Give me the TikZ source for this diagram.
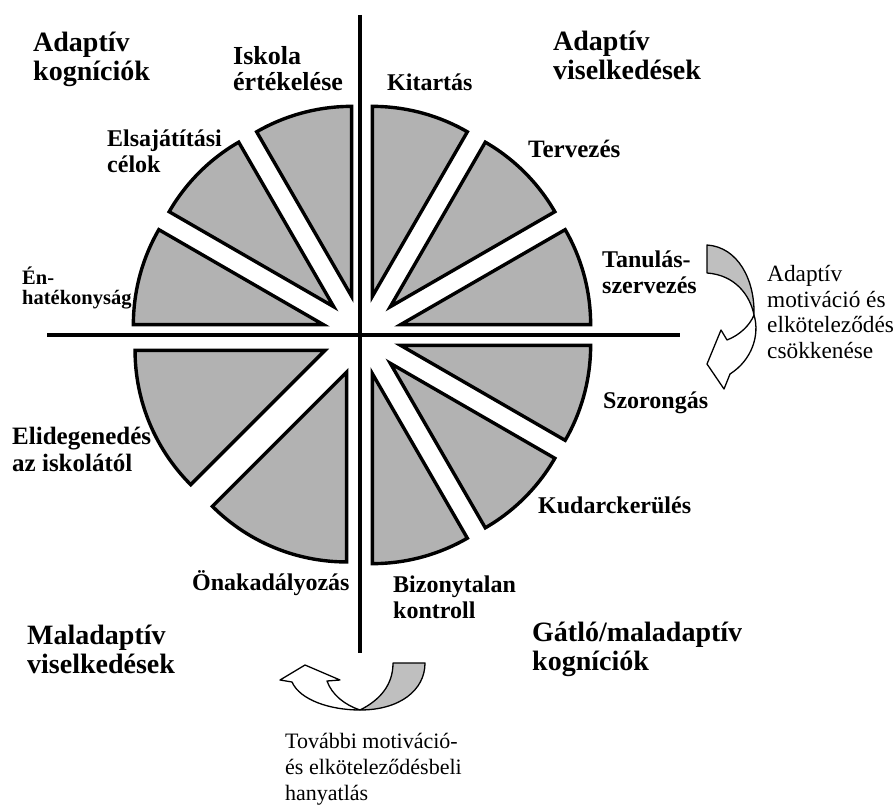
\documentclass[tikz,border=0pt]{standalone}
\usepackage{fontspec}
\setmainfont{Liberation Serif}
\usetikzlibrary{calc}
\begin{document}
\begin{tikzpicture}[x=1pt,y=1pt,
  sector/.style={draw=black, line width=3.4pt, fill=black!30, line join=miter},
  axisline/.style={line width=3.2pt},
  head/.style={font=\bfseries\fontsize{28}{29}\selectfont, anchor=base west, align=left, inner sep=0pt},
  lab/.style={font=\bfseries\fontsize{24}{26}\selectfont, anchor=base west, align=left, inner sep=0pt},
  note/.style={font=\fontsize{23.3}{25.5}\selectfont, anchor=base west, align=left, inner sep=0pt},
  bnote/.style={font=\fontsize{22}{26}\selectfont, anchor=base west, align=left, inner sep=0pt},
  ribbon/.style={draw=black, line width=1.3pt, line join=round},
]
\useasboundingbox (0,0) rectangle (896,-805);
\coordinate (C) at (362,-335);

% exploded sectors
\foreach \a/\s in {0/30,30/30,60/30,90/30,120/30,150/30,180/45,225/45,270/30,300/30,330/30}{
  \pgfmathsetmacro\m{\a+\s/2}
  \draw[sector] ($(C)+(\m:40)$) -- ++(\a:190) arc[start angle=\a, end angle=\a+\s, radius=190] -- cycle;
}

% axes
\draw[axisline] (360,-15) -- (360,-653);
\draw[axisline] (47,-335) -- (680,-335);

% headings (anchor = baseline of last line)
\node[head] (h1) at (33,-81) {Adaptív\\kogníciók};
\node[head] (h2) at (553,-80) {Adaptív\\viselkedések};
\node[head] (h3) at (27,-673) {Maladaptív\\viselkedések};
\node[head] (h4) at (532,-670) {Gátló/maladaptív\\kogníciók};

% labels
\node[lab, font=\bfseries\fontsize{26}{26}\selectfont] (l1) at (233,-91) {Iskola\\értékelése};
\node[lab] (l2) at (387,-91) {Kitartás};
\node[lab] (l3) at (107,-173) {Elsajátítási\\célok};
\node[lab, font=\bfseries\fontsize{25}{26}\selectfont] (l4) at (528,-158) {Tervezés};
\node[lab, font=\bfseries\fontsize{20.5}{20}\selectfont] (l5) at (22,-304) {Én-\\hatékonyság};
\node[lab] (l6) at (602,-293) {Tanulás-\\szervezés};
\node[lab] (l7) at (603,-408) {Szorongás};
\node[lab] (l8) at (538,-513) {Kudarckerülés};
\node[lab, font=\bfseries\fontsize{25}{27}\selectfont] (l9) at (12,-471) {Elidegenedés\\az iskolától};
\node[lab] (l10) at (192,-590) {Önakadályozás};
\node[lab] (l11) at (393,-618) {Bizonytalan\\kontroll};

% notes
\node[note] (n1) at (767,-358) {Adaptív\\motiváció és\\elköteleződés\\csökkenése};
\node[bnote] (n2) at (285,-800) {További motiváció-\\és elköteleződésbeli\\hanyatlás};

% right ribbon arrow
\draw[ribbon, fill=black!25] (707,-245) .. controls (738,-247) and (755,-280) .. (754,-315)
  .. controls (750,-295) and (735,-275) .. (707,-273) -- cycle;
\draw[ribbon, fill=white] (754,-315) .. controls (760,-335) and (752,-360) .. (730,-374)
  -- (724,-389) -- (707,-364) -- (721,-330) -- (727,-340)
  .. controls (740,-335) and (750,-325) .. (754,-315) -- cycle;

% bottom ribbon arrow
\draw[ribbon, fill=black!25] (393,-663) -- (425,-663) .. controls (425,-690) and (400,-710) .. (360,-710)
  .. controls (380,-700) and (393,-685) .. (393,-663) -- cycle;
\draw[ribbon, fill=white] (360,-710) .. controls (330,-710) and (300,-700) .. (292,-682)
  -- (280,-680) -- (305,-665) -- (340,-680) -- (327,-681)
  .. controls (332,-695) and (345,-705) .. (360,-710) -- cycle;
\end{tikzpicture}
\end{document}
